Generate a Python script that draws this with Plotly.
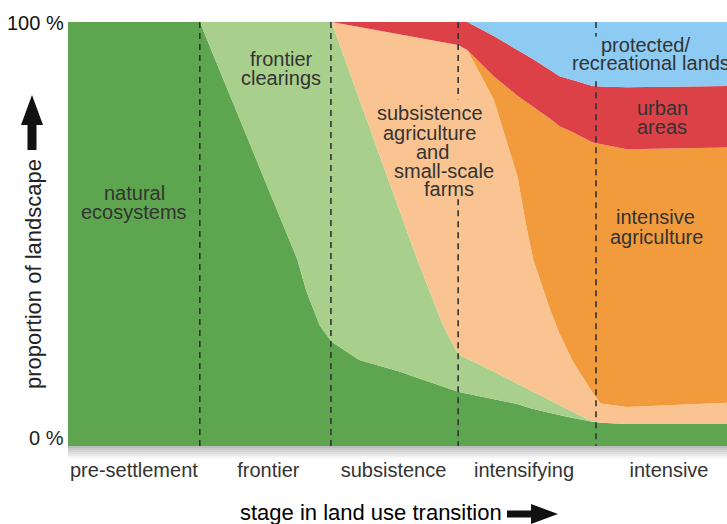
import plotly.graph_objects as go

# ---------------- data (percent of landscape, stacked bottom -> top) -------------
stage_pos = [0, 1, 1.74, 1.81, 1.91, 2.0, 2.21, 2.52, 2.65, 2.85, 2.96, 3.03,
             3.23, 3.41, 3.48, 3.53, 3.66, 3.73, 3.83, 3.98, 4.04, 4.24, 5]

natural_ecosystems = [100, 100, 44, 36.4, 28.4, 24.6, 20.3, 17.5, 16.1, 13.9, 12.8, 12.3,
                      11.1, 9.9, 9.2, 8.7, 7.8, 7.3, 6.6, 5.7, 5.5, 5.2, 5.2]
frontier_clearings = [0, 0, 56, 63.6, 71.6, 75.4, 61.5, 37.7, 27.9, 14.2, 8.9, 8.3,
                      6.5, 4.8, 4.3, 4.1, 3.0, 2.3, 1.5, 0, 0, 0, 0]
subsistence_agri = [0, 0, 0, 0, 0, 0, 17.0, 41.9, 52.4, 67.2, 72.9, 72.8,
                    64.2, 48.9, 37.9, 31.2, 21.2, 16.9, 11.9, 6.9, 4.5, 4.0, 5.0]
intensive_agri = [0, 0, 0, 0, 0, 0, 0, 0, 0, 0, 0, 0,
                  5.4, 19.0, 29.7, 36.0, 45.1, 48.9, 54.0, 59.0, 61.2, 60.8, 60.2]
urban_areas = [0, 0, 0, 0, 0, 0, 1.2, 2.9, 3.6, 4.7, 5.4, 6.6,
               9.5, 10.8, 10.9, 11.2, 11.5, 11.8, 12.3, 13.3, 13.6, 14.6, 14.5]
protected_lands = [0, 0, 0, 0, 0, 0, 0, 0, 0, 0, 0, 0,
                   3.3, 6.6, 8.0, 8.8, 11.4, 12.8, 13.7, 15.1, 15.2, 15.4, 15.1]

stage_labels = ["pre-settlement", "frontier", "subsistence", "intensifying", "intensive"]
stage_label_pos = [0.5, 1.52, 2.47, 3.46, 4.56]
stage_bounds = [1.0, 1.995, 2.96, 4.006]

# ---------------- figure geometry ----------------
W, H = 727, 524
L, R, T, B = 68, 0, 22, 78
PW, PH = W - L - R, H - T - B


def px(x):
    return (x - L) / PW


def py(y):
    return (H - B - y) / PH


series = [
    ("natural ecosystems", natural_ecosystems, "#5da64f"),
    ("frontier clearings", frontier_clearings, "#a8d08c"),
    ("subsistence agriculture", subsistence_agri, "#f9c492"),
    ("intensive agriculture", intensive_agri, "#f19b3d"),
    ("urban areas", urban_areas, "#dc4148"),
    ("protected/recreational lands", protected_lands, "#8ecbf2"),
]

fig = go.Figure()
for name, vals, col in series:
    fig.add_trace(go.Scatter(
        x=stage_pos, y=vals, name=name, stackgroup="land", mode="lines",
        line=dict(width=0, color=col), fillcolor=col, hoverinfo="skip",
    ))

FONT = "Liberation Sans, Arial, Helvetica, sans-serif"
TXT = "#333333"

shapes = []
# dashed stage boundaries (with gaps where text sits)
dash = dict(color="#333333", width=1.6, dash="6px,5px")
segments = {
    0: [(0, 100)],
    1: [(0, 100)],
    2: [(0, 58.2), (81.8, 100)],
    3: [(0, 86.0), (96.6, 100)],
}
for i, xb in enumerate(stage_bounds):
    for y0, y1 in segments[i]:
        shapes.append(dict(type="line", xref="x", yref="y", x0=xb, x1=xb,
                           y0=y1, y1=y0, line=dash, layer="above"))

# shadow below the plot
for k in range(6):
    shapes.append(dict(type="rect", xref="paper", yref="paper",
                       x0=0, x1=1, y0=py(446 + 2 * k), y1=py(448 + 2 * k),
                       fillcolor="#7a7a7a", opacity=0.5 * (1 - k / 6),
                       line=dict(width=0), layer="below"))


def poly(points):
    d = "M " + " L ".join(f"{px(a):.5f},{py(b):.5f}" for a, b in points) + " Z"
    return dict(type="path", xref="paper", yref="paper", path=d,
                fillcolor="#111111", line=dict(width=0))


# up arrow (y axis)
shapes.append(poly([(32, 95), (43, 125), (36.5, 125), (36.5, 150),
                    (27.5, 150), (27.5, 125), (21, 125)]))
# right arrow (x axis)
shapes.append(poly([(558, 514), (531, 504), (531, 510.5), (507, 510.5),
                    (507, 517.5), (531, 517.5), (531, 524)]))

annotations = []


def label(text, x, y, size=20, color=TXT, **kw):
    annotations.append(dict(text=text, xref="paper", yref="paper",
                            x=px(x), y=py(y), showarrow=False,
                            font=dict(family=FONT, size=size, color=color),
                            xanchor=kw.get("xanchor", "center"),
                            yanchor=kw.get("yanchor", "middle"),
                            textangle=kw.get("textangle", 0)))


label("natural", 134, 193)
label("ecosystems", 134, 212)
label("frontier", 281, 59)
label("clearings", 281, 78)
label("subsistence", 430, 113)
label("agriculture", 430, 133)
label("and", 432, 152)
label("small-scale", 444, 171)
label("farms", 449, 189)
label("protected/", 645, 45)
label("recreational lands", 651, 63)
label("urban", 662, 108)
label("areas", 662, 127)
label("intensive", 655, 217)
label("agriculture", 656, 237)

label("100 %", 66, 23, color="#111111", xanchor="right")
label("0 %", 66, 438, color="#222222", xanchor="right")
label("proportion of landscape", 33, 274, size=22, color="#222222", textangle=-90)
label("stage in land use transition", 371, 512, size=22, color="#000000")

fig.update_layout(
    width=W, height=H,
    margin=dict(l=L, r=R, t=T, b=B, pad=0),
    paper_bgcolor="white", plot_bgcolor="white",
    showlegend=False,
    shapes=shapes, annotations=annotations,
    xaxis=dict(range=[0, 5], showgrid=False, zeroline=False, showline=False,
               tickvals=stage_label_pos, ticktext=stage_labels, ticks="",
               ticklabelstandoff=10,
               tickfont=dict(family=FONT, size=20, color=TXT)),
    yaxis=dict(range=[0, 100], showgrid=False, zeroline=False, showline=False,
               showticklabels=False, ticks=""),
)

fig.write_html("out.html", config={"displayModeBar": False},
               post_script="document.body.style.margin='0';document.body.style.overflow='hidden';")
